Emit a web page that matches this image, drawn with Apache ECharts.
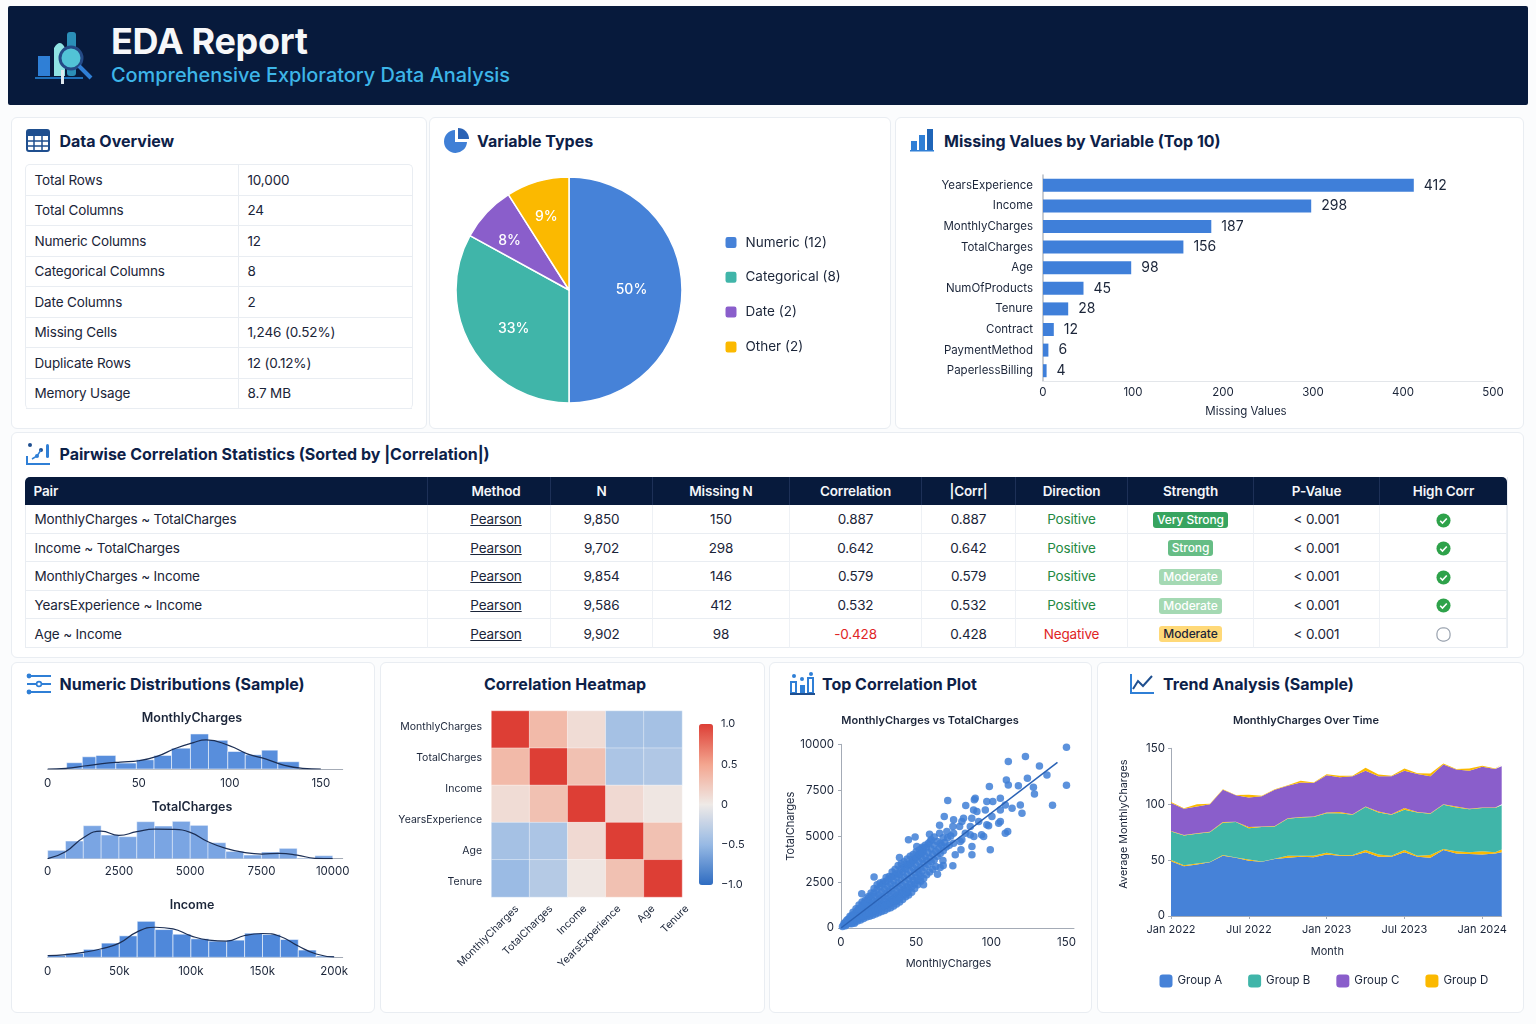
<!DOCTYPE html>
<html>
<head>
<meta charset="utf-8">
<title>EDA Report</title>
<script src="https://cdn.jsdelivr.net/npm/echarts@6/dist/echarts.min.js"></script>
<style>
html,body{margin:0;padding:0;background:#fbfcfd;width:1536px;height:1024px;overflow:hidden;font-family:Inter,"Noto Sans",sans-serif;color:#1a2438}
.abs{position:absolute;box-sizing:border-box}
#hdr{left:8px;top:6px;width:1520px;height:99px;background:#071a3c;border-radius:2px}
#hdr h1{position:absolute;left:103px;top:14px;margin:0;font-size:36px;line-height:42px;font-weight:700;color:#f6f7f9;letter-spacing:-.3px}
#hdr h2{position:absolute;left:103px;top:56px;margin:0;font-size:19.9px;line-height:26px;font-weight:500;color:#3db5e8}
.card{background:#fff;border:1px solid #e9edf2;border-radius:6px}
.ct{position:absolute;font-size:16px;line-height:24px;font-weight:700;color:#0d2148;white-space:nowrap}
.ic{position:absolute}
table{border-collapse:separate;border-spacing:0;table-layout:fixed;position:absolute;font-size:13.5px;letter-spacing:-.15px}
#ov{left:25px;top:164px;width:388px;border:1px solid #e9edf2;border-radius:5px;border-bottom:0}
#ov td{height:29.5px;padding:0 0 0 8.5px;border-bottom:1px solid #e9edf2}
#ov td:first-child{border-right:1px solid #e9edf2}
#ct{left:25px;top:477px;width:1483px;text-align:center;border-right:1px solid #e9edf2}
#ct th{height:28px;padding:0;background:#071a3c;color:#f4f6f9;font-size:13.5px;font-weight:600;border-right:1px solid #1d3057}
#ct th:first-child,#ct td:first-child{text-align:left;padding-left:8.5px}
#ct th:first-child{border-top-left-radius:5px}
#ct th:last-child{border-top-right-radius:5px;border-right:0}
#ct th:nth-child(2){padding-left:14px}
#ct td{height:26.6px;padding:1px 0 0 0;border-bottom:1px solid #e9edf2;border-right:1px solid #eef1f5}
#ct td:first-child{border-left:1px solid #e9edf2}
.m{text-decoration:underline;padding-left:14px}
.pos{color:#1f8a43}.neg{color:#e02525}
.bd{display:inline-block;font-size:12px;line-height:16px;padding:0 4px;border-radius:3px;font-weight:500;white-space:nowrap;letter-spacing:-.1px}
.ck{display:inline-block;width:15px;height:15px;vertical-align:middle}
#chart{left:0;top:0;width:1536px;height:1024px}
</style>
</head>
<body>
<div class="abs" id="hdr">
<svg class="ic" style="left:27px;top:20px" width="60" height="60" viewBox="0 0 60 60">
<rect x="3" y="30" width="12" height="20" fill="#2f7fd6"/><path d="M19 50V22q6-10 11 0v28z" fill="#8fe3e3"/><rect x="32" y="6" width="9" height="44" rx="3" fill="#2b8fb8"/><rect x="0" y="51" width="48" height="2" fill="#1e6fb8"/>
<circle cx="36" cy="32" r="11" fill="#52c3d6" stroke="#244a86" stroke-width="3"/><line x1="44" y1="40" x2="56" y2="52" stroke="#2f7fd6" stroke-width="4"/><rect x="26" y="44" width="3" height="14" fill="#dfe8ee"/>
</svg>
<h1>EDA Report</h1>
<h2>Comprehensive Exploratory Data Analysis</h2>
</div>

<div class="abs card" style="left:11px;top:117px;width:416px;height:312px"></div>
<div class="abs card" style="left:429px;top:117px;width:462px;height:312px"></div>
<div class="abs card" style="left:895px;top:117px;width:629px;height:312px"></div>
<div class="abs card" style="left:11px;top:432px;width:1513px;height:226px"></div>
<div class="abs card" style="left:11px;top:662px;width:364px;height:351px"></div>
<div class="abs card" style="left:380px;top:662px;width:385px;height:351px"></div>
<div class="abs card" style="left:769px;top:662px;width:323px;height:351px"></div>
<div class="abs card" style="left:1097px;top:662px;width:427px;height:351px"></div>

<svg class="ic" style="left:26px;top:129px" width="24" height="23" viewBox="0 0 24 23"><rect x="1" y="1" width="22" height="21" rx="2" fill="#fff" stroke="#1f4f8f" stroke-width="2"/><rect x="1" y="1" width="22" height="6" fill="#1f4f8f"/><path d="M1 12h22M1 17h22M8 7v15M16 7v15" stroke="#1f4f8f" stroke-width="1.5"/></svg>
<div class="ct" style="left:59.5px;top:129px">Data Overview</div>
<svg class="ic" style="left:444px;top:128px" width="25" height="25" viewBox="0 0 25 25"><path d="M11 2a11.5 11.5 0 1 0 12 12H11z" fill="#3f7fd6"/><path d="M14 0a11 11 0 0 1 11 11H14z" fill="#2a62b5"/></svg>
<div class="ct" style="left:477px;top:129px">Variable Types</div>
<svg class="ic" style="left:910px;top:127px" width="25" height="25" viewBox="0 0 25 25"><rect x="1" y="14" width="6" height="9" fill="#2f7fd6"/><rect x="9" y="8" width="6" height="15" fill="#2f7fd6"/><rect x="17" y="2" width="6" height="21" fill="#1f65b8"/><rect x="0" y="23" width="24" height="1.5" fill="#2f7fd6"/></svg>
<div class="ct" style="left:944px;top:129px">Missing Values by Variable (Top 10)</div>
<svg class="ic" style="left:26px;top:442px" width="25" height="24" viewBox="0 0 25 24"><path d="M1 14v8h23" fill="none" stroke="#2f7fd6" stroke-width="2"/><circle cx="4" cy="3" r="2" fill="#1f4f8f"/><circle cx="11" cy="14" r="2" fill="#2f7fd6"/><circle cx="15" cy="8" r="2" fill="#1f4f8f"/><rect x="20" y="2" width="3" height="14" rx="1.5" fill="#2f7fd6"/><path d="M6 17l5-3 4-6" fill="none" stroke="#2f7fd6" stroke-width="1.5"/></svg>
<div class="ct" style="left:59.5px;top:442px">Pairwise Correlation Statistics (Sorted by |Correlation|)</div>
<svg class="ic" style="left:26px;top:673px" width="25" height="22" viewBox="0 0 25 22"><path d="M1 3h24M1 11h24M1 19h24" stroke="#2f7fd6" stroke-width="2"/><circle cx="3" cy="3" r="2.4" fill="#2f7fd6"/><circle cx="13" cy="11" r="2.4" fill="#fff" stroke="#2f7fd6" stroke-width="1.6"/><circle cx="3" cy="19" r="2.4" fill="#2f7fd6"/></svg>
<div class="ct" style="left:59.5px;top:672px">Numeric Distributions (Sample)</div>
<div class="ct" style="left:380px;top:672px;width:370px;text-align:center">Correlation Heatmap</div>
<svg class="ic" style="left:790px;top:672px" width="25" height="23" viewBox="0 0 25 23"><rect x="1" y="10" width="5" height="11" fill="none" stroke="#2f7fd6" stroke-width="2"/><rect x="10" y="13" width="5" height="8" fill="#2f7fd6"/><rect x="18" y="6" width="5" height="15" fill="none" stroke="#2f7fd6" stroke-width="2"/><path d="M0 22h25" stroke="#1f4f8f" stroke-width="2"/><circle cx="4" cy="4" r="2" fill="#2f7fd6"/><circle cx="12" cy="7" r="2" fill="#2f7fd6"/><circle cx="21" cy="2" r="2" fill="#2f7fd6"/></svg>
<div class="ct" style="left:822px;top:672px">Top Correlation Plot</div>
<svg class="ic" style="left:1129px;top:673px" width="26" height="22" viewBox="0 0 26 22"><path d="M2 1v19h23" fill="none" stroke="#2f7fd6" stroke-width="2"/><path d="M4 16l5-8 5 5 9-10" fill="none" stroke="#1f4f8f" stroke-width="2"/></svg>
<div class="ct" style="left:1163px;top:672px">Trend Analysis (Sample)</div>

<table class="abs" id="ov"><colgroup><col style="width:213px"><col></colgroup><tbody id="ovb"></tbody></table>
<table class="abs" id="ct"><colgroup id="ctc"></colgroup><thead><tr id="cth"></tr></thead><tbody id="ctb"></tbody></table>
<div class="abs" id="chart"></div>

<script>
/* ---------- tables ---------- */
const overviewLabels = ['Total Rows','Total Columns','Numeric Columns','Categorical Columns','Date Columns','Missing Cells','Duplicate Rows','Memory Usage'];
const overviewValues = ['10,000','24','12','8','2','1,246 (0.52%)','12 (0.12%)','8.7 MB'];
const corrHeaders = ['Pair','Method','N','Missing N','Correlation','|Corr|','Direction','Strength','P-Value','High Corr'];
const corrPairs = ['MonthlyCharges ~ TotalCharges','Income ~ TotalCharges','MonthlyCharges ~ Income','YearsExperience ~ Income','Age ~ Income'];
const corrN = ['9,850','9,702','9,854','9,586','9,902'];
const corrMissing = ['150','298','146','412','98'];
const corrValues = ['0.887','0.642','0.579','0.532','-0.428'];
const corrAbs = ['0.887','0.642','0.579','0.532','0.428'];
const corrDirection = ['Positive','Positive','Positive','Positive','Negative'];
const corrStrength = ['Very Strong','Strong','Moderate','Moderate','Moderate'];
const corrHigh = [true,true,true,true,false];

/* ---------- pie ---------- */
const typeNames = ['Numeric (12)','Categorical (8)','Date (2)','Other (2)'];
const typeShares = [50,33,8,9];

/* ---------- missing values ---------- */
const missingVars = ['YearsExperience','Income','MonthlyCharges','TotalCharges','Age','NumOfProducts','Tenure','Contract','PaymentMethod','PaperlessBilling'];
const missingCounts = [412,298,187,156,98,45,28,12,6,4];

/* ---------- histograms: [binStart, binEnd, height] and KDE [x, height] ---------- */
const monthlyBins = [[10.4,19,19],[19,26.5,37],[26.5,37.4,41],[37.4,48.7,18],[48.7,58.4,28],[58.4,68,41],[68,78.4,63],[78.4,88.3,106],[88.3,98.9,87],[98.9,108.5,53],[108.5,117.5,43],[117.5,126.4,57],[126.4,138.1,22]];
const monthlyKde = [[0,0],[10,2],[20,9],[30,16],[40,21],[50,25],[60,38],[70,62],[80,80],[87,88],[100,70],[110,45],[120,30],[130,11],[140,2],[150,0]];
const totalBins = [[0,625,25],[625,1250,53],[1250,1875,99],[1875,2500,71],[2500,3125,66],[3125,3750,111],[3750,4375,98],[4375,5000,112],[5000,5625,100],[5625,6250,48],[6250,6875,22],[6875,7500,11],[7500,8125,20],[8125,8750,31],[8750,9375,2],[9375,10000,9]];
const totalKde = [[0,0],[625,21],[1250,63],[1875,83],[2500,70],[3125,81],[3750,89],[4375,88],[5000,79],[5625,51],[6250,31],[6875,19],[7500,14],[8125,16],[8750,11],[9375,1],[10000,0]];
const incomeBins = [[0,12500,6],[12500,25000,12],[25000,37500,24],[37500,50000,43],[50000,62500,65],[62500,75000,109],[75000,87500,84],[87500,100000,70],[100000,112500,56],[112500,125000,49],[125000,137500,52],[137500,150000,73],[150000,162500,69],[162500,175000,54],[175000,187500,22],[187500,200000,4]];
const incomeKde = [[0,5],[12500,8],[25000,15],[37500,26],[50000,43],[62500,77],[75000,91],[87500,86],[100000,65],[112500,52],[125000,49],[137500,66],[150000,72],[162500,63],[175000,34],[187500,10],[200000,1]];

/* ---------- heatmap ---------- */
const heatLabels = ['MonthlyCharges','TotalCharges','Income','YearsExperience','Age','Tenure'];
const heatCols = ['c1','c2','c3','c4','c5'];
const heatRows = ['r1','r2','r3','r4','r5'];
const heatRow1 = [1,0.35,0.1,-0.42,-0.42];
const heatRow2 = [0.35,1,0.3,-0.38,-0.36];
const heatRow3 = [0.1,0.3,1,0.12,0.03];
const heatRow4 = [-0.42,-0.38,0.12,1,0.3];
const heatRow5 = [-0.48,-0.33,0.03,0.3,1];
const colorTicks = ['-1.0','-0.5','0','0.5','1.0'];

/* ---------- scatter ---------- */
const scatterPts = [[150,9840],[150,7770],[122.7,9330],[111.3,9060],[132,8820],[137,8330],[124,8150],[118,7750],[128,7660],[128.7,7300],[111.3,7790],[110,8060],[140.7,6680],[120.4,6250],[119.3,6700],[98.7,7700],[106,7065],[71,6940],[68.7,6070],[83,6670],[89.3,7065],[88.7,6975],[97,6880],[101,6880],[90.4,6340],[88.2,6430],[96,6430],[106,6430],[100.4,6070],[109.3,6700],[113.8,6520],[106,5800],[104.9,5700],[110.9,5250],[109.3,5160],[99.3,4260],[97,5620],[98.2,5560],[94.9,4980],[93.5,5070],[88.4,4980],[87.1,3985],[87.1,4440],[86,5070],[82.7,5160],[80.4,5800],[81.5,5980],[74.9,5890],[74.4,5525],[78.9,5525],[87,5980],[91.6,5800],[86,5525],[65.6,5600],[65.6,5160],[70.4,5250],[74.9,5160],[80.4,4800],[79.3,4710],[74.9,4620],[76,3985],[79.8,4260],[74.4,3390],[64.2,2930],[67.8,3680],[58.9,5110],[49.3,4950],[44.9,4800],[50.4,4440],[54.4,4350],[59.3,4710],[66,4620],[54.9,2355],[44.2,1900],[36.7,1485],[38.9,3840],[22,2770],[13.8,1870],
[1,80],[2,150],[2,250],[3,120],[3,320],[4,200],[4,430],[5,310],[5,490],[6,240],[6,520],[7,360],[7,640],[8,410],[8,720],[9,330],[9,560],[10,490],[10,830],[11,610],[11,960],[12,520],[12,800],[13,710],[13,1060],[14,620],[14,900],[15,790],[15,1190],[16,700],[16,1020],[17,880],[17,1310],[18,760],[18,1130],[19,970],[19,1410],[20,820],[20,1250],[21,1060],[21,1510],[22,980],[22,1360],[23,1150],[23,1710],[24,1020],[24,1450],[25,1260],[25,1810],[26,1100],[26,1610],[27,1350],[27,1960],[28,1250],[28,1700],[29,1490],[29,2110],[30,1300],[30,1860],[31,1610],[31,2260],[32,1450],[32,2010],[33,1760],[33,2410],[34,1550],[34,2150],[35,1860],[35,2560],[36,1700],[36,2310],[37,2010],[37,2760],[38,1800],[38,2450],[39,2160],[39,2910],[40,1950],[40,2610],[41,2310],[41,3060],[42,2100],[42,2760],[43,2460],[43,3210],[44,2250],[44,2910],[45,2660],[45,3410],[46,2400],[46,3110],[47,2810],[47,3560],[48,2600],[48,3260],[49,3010],[49,3710],[50,2760],[50,3410],[51,3160],[51,3910],[52,2950],[52,3610],[53,3310],[53,4060],[54,3100],[54,3760],[55,3510],[55,4210],[56,3300],[56,3910],[57,3660],[57,4410],[58,3450],[58,4110],[59,3810],[60,3600],[60,4310],[61,4010],[62,3700],[62,4510],[63,4160],[64,3900],[64,4710],[65,4310],[66,4060],[67,4510],[68,4210],[68,4910],[69,4660],[70,4410],[71,4910],[72,4510],[73,5010],
[6,640],[7,230],[8,860],[9,260],[10,1050],[11,380],[12,1250],[13,430],[14,1420],[15,520],[16,1500],[17,600],[18,1700],[19,640],[20,1900],[21,700],[22,2150],[23,760],[24,2350],[25,830],[26,2450],[27,900],[28,2500],[29,950],[30,2750],[31,1050],[32,2800],[33,1100],[34,3050],[35,1200],[36,3200],[37,1300],[38,3400],[39,1420],[40,3500],[41,1550],[42,3600],[43,1700],[44,3750],[45,1800],[46,3900],[47,1950],[48,4000],[49,2150],[50,4150],[51,2350],[52,4250],[53,2550],[54,4400],[55,2700],[56,4500],[57,2900],[58,4600],[59,3050],[60,4800],[61,3200],[62,4950],[63,3350],[66,3300],[68,3400],
[12,1050],[14,1250],[16,1400],[18,1600],[20,1750],[22,1900],[24,2100],[26,2250],[28,2400],[30,2550],[32,2650],[34,2800],[36,2900],[38,3000],[40,3200],[42,3300],[44,3450],[46,3500],[48,3700],[50,3850],[52,4000],[54,4100],
[15,640],[17,720],[19,800],[21,880],[23,950],[25,1030],[27,1120],[29,1200],[31,1250],[33,1350],[35,1450],[37,1550],[39,1650],[41,1800],[43,1950],[45,2100],[47,2250],[49,2400],[51,2600],[53,2800]];
const trendLine = [[0,0],[144,9020]];

/* ---------- stacked area ---------- */
const areaNames = ['Group A','Group B','Group C','Group D'];
const monthPos = [0,1,2,3,4,5,6,7,8,9,10,11,12,13,14,15,16,17,18,19,20,21,22,23,24,25,25.5];
const monthTicks = ['Jan 2022','Jul 2022','Jan 2023','Jul 2023','Jan 2024'];
const groupA = [49,44.5,46,48,54,52,49.5,48.5,51,52,53,52.5,55,54,54,57,53,53,57,53,52,59,56,55.5,55,56,57];
const fringeAB = [1,1,1,0.3,0.5,0.3,1,0.3,0.3,2,1,1.5,1.5,0.5,0.5,2,2,1,2,1,2.5,1,2,1.5,3,1,2.5];
const groupB = [25.5,26.5,26.5,26.7,29,31.7,28,30.7,28.7,33,34,34.5,35.5,37.5,36,38.5,37.5,36.5,36,38.5,37,39.5,39,38.5,38.5,39.5,39.5];
const fringeBC = [0.5,0.5,0.5,0.3,0.5,0.3,1,0.5,0.5,0.5,0.5,0.5,0.5,1,0.5,0.5,1,0.5,1.5,0.5,0.5,0.5,1,0.5,0.5,0.5,1];
const groupC = [25,23.5,24,24.7,29,23.7,26.5,27,32.5,29,31,30,33.5,31,34,32,31.5,34,33.5,34,33,35.5,33,34,36.5,34.5,34];
const groupD = [1,0.3,2,0.3,0.3,0.3,2.5,0.5,0.3,0.5,1.5,0.5,0.7,1.5,0.5,2.5,1.5,0.5,2,0.7,2.5,1,0.5,2,1,0.5,1.5];

/* ---------- palette ---------- */
const BLUE='#4682d8',TEAL='#40b5a9',PURPLE='#8a5ecb',GOLD='#fbb900',INK='#1b2539',AXIS='#a4abb6';

/* ---------- fill tables ---------- */
document.getElementById('ovb').innerHTML = overviewLabels.map((l,i)=>`<tr><td>${l}</td><td>${overviewValues[i]}</td></tr>`).join('');
const colW = [403,123,102,137,132,94,112,126,126,127];
document.getElementById('ctc').innerHTML = colW.map(w=>`<col style="width:${w}px">`).join('');
document.getElementById('cth').innerHTML = corrHeaders.map(h=>`<th>${h}</th>`).join('');
const badge = s=>s==='Very Strong'?['#37a45f','#fff']:s==='Strong'?['#66bd85','#fff']:['#a4d9b3','#fff'];
const CHECK = '<svg class="ck" viewBox="0 0 16 16"><circle cx="8" cy="8" r="7.5" fill="#2ea24a"/><path d="M4.5 8.3l2.4 2.4 4.6-4.8" fill="none" stroke="#fff" stroke-width="1.7"/></svg>';
const EMPTY = '<svg class="ck" viewBox="0 0 16 16"><rect x="1" y="1" width="14" height="14" rx="6" fill="#fff" stroke="#9aa3af" stroke-width="1.3"/></svg>';
document.getElementById('ctb').innerHTML = corrPairs.map((p,i)=>{
  const neg = corrDirection[i]==='Negative';
  const b = neg?['#ffd978',INK]:badge(corrStrength[i]);
  return `<tr><td>${p}</td><td><span class="m">Pearson</span></td><td>${corrN[i]}</td><td>${corrMissing[i]}</td>`+
  `<td class="${neg?'neg':''}">${corrValues[i]}</td><td>${corrAbs[i]}</td><td class="${neg?'neg':'pos'}">${corrDirection[i]}</td>`+
  `<td><span class="bd" style="background:${b[0]};color:${b[1]}">${corrStrength[i]}</span></td><td>&lt; 0.001</td><td>${corrHigh[i]?CHECK:EMPTY}</td></tr>`;
}).join('');

/* ---------- chart ---------- */
const font='Inter';
const lab=(o)=>Object.assign({fontFamily:font,fontSize:11.5,color:INK},o||{});
const plain=v=>String(v);
function histBars(bins,grid,opacity){
  return {type:'custom',xAxisIndex:grid,yAxisIndex:grid,data:bins,encode:{x:[0,1],y:2},silent:true,
    renderItem:(p,api)=>{
      const a=api.coord([api.value(0),0]),b=api.coord([api.value(1),api.value(2)]);
      return {type:'rect',shape:{x:a[0],y:b[1],width:b[0]-a[0],height:a[1]-b[1]},
        style:{fill:BLUE,opacity:opacity,stroke:'#ffffff',lineWidth:0.6}};
    }};
}
function histLine(kde,grid){
  return {type:'line',xAxisIndex:grid,yAxisIndex:grid,data:kde,smooth:0.5,symbol:'none',silent:true,lineStyle:{color:'#1c2f55',width:1.2}};
}
function histX(grid,max,interval,margin,fmt){
  return {type:'value',gridIndex:grid,min:0,max:max,interval:interval,splitLine:{show:false},axisTick:{show:false},
    axisLine:{show:true,onZero:false,lineStyle:{color:AXIS,width:1}},axisLabel:lab({margin:margin,showMaxLabel:false,formatter:fmt||plain})};
}
function histY(grid,max){
  return {type:'value',gridIndex:grid,min:0,max:max,show:false};
}
const kFmt=v=>v===0?'0':(v/1000)+'k';
function stack(name,values,color){
  return {name:name,type:'line',xAxisIndex:8,yAxisIndex:8,stack:'all',symbol:'none',silent:true,
    data:values.map((v,i)=>[v,monthPos[i]]),encode:{x:1,y:0},lineStyle:{width:0},itemStyle:{color:color},areaStyle:{color:color,opacity:1}};
}
const heatData=[heatRow1,heatRow2,heatRow3,heatRow4,heatRow5].flatMap((r,y)=>r.map((v,x)=>[x,y,v]));
const pieNudge=[[3,0],[-4,9],[-16,-8],[-6,-16]];

const option={
  animation:false,
  textStyle:{fontFamily:font},
  title:[
    {text:'MonthlyCharges',left:192,top:712,padding:0,textAlign:'center',textStyle:lab({fontSize:12.5,fontWeight:600})},
    {text:'TotalCharges',left:192,top:801,padding:0,textAlign:'center',textStyle:lab({fontSize:12.5,fontWeight:600})},
    {text:'Income',left:192,top:899,padding:0,textAlign:'center',textStyle:lab({fontSize:12.5,fontWeight:600})},
    {text:'MonthlyCharges vs TotalCharges',left:930,top:715,padding:0,textAlign:'center',textStyle:lab({fontSize:11,fontWeight:600})},
    {text:'MonthlyCharges Over Time',left:1306,top:715,padding:0,textAlign:'center',textStyle:lab({fontSize:11,fontWeight:600})}
  ],
  legend:[
    {orient:'vertical',left:723.5,top:235,padding:0,itemWidth:13,itemHeight:13,itemGap:19.8,icon:'roundRect',data:typeNames,selectedMode:false,textStyle:lab({fontSize:13.5,padding:[0,0,0,3]})},
    {orient:'horizontal',left:1159.5,top:974.5,padding:0,itemWidth:13,itemHeight:13,itemGap:26,icon:'roundRect',data:areaNames,selectedMode:false,textStyle:lab({fontSize:11.5})}
  ],
  grid:[
    {left:1043,top:175,width:450,height:206},
    {left:47.7,top:730,width:295,height:39},
    {left:47.7,top:818.7,width:295,height:40},
    {left:47.7,top:917,width:295,height:40.3},
    {left:491.5,top:711,width:190.5,height:186},
    {left:500,top:711,width:204,height:186},
    {left:699,top:724,width:14,height:161},
    {left:841,top:744.3,width:233,height:183.7},
    {left:1171,top:748.3,width:330.7,height:167.7}
  ],
  xAxis:[
    {type:'value',gridIndex:0,min:0,max:500,interval:100,splitLine:{show:false},axisTick:{show:false},
     axisLine:{show:true,onZero:false,lineStyle:{color:'#e3e6ea'}},axisLabel:lab({margin:6}),
     name:'Missing Values',nameLocation:'middle',nameGap:25,nameTextStyle:lab({padding:[0,44,0,0]})},
    histX(1,162,50,9),
    histX(2,10350,2500,7),
    histX(3,206000,50000,8,kFmt),
    {type:'category',gridIndex:4,data:heatCols,show:false},
    {type:'category',gridIndex:5,data:heatLabels,axisLine:{show:false},axisTick:{show:false},splitLine:{show:false},
     axisLabel:lab({rotate:45,interval:0,margin:10,fontSize:10.5})},
    {type:'value',gridIndex:6,min:0,max:1,show:false},
    {type:'value',gridIndex:7,min:0,max:155,interval:50,splitLine:{show:false},axisTick:{show:false},
     axisLine:{show:true,onZero:false,lineStyle:{color:AXIS}},axisLabel:lab({margin:9,showMaxLabel:false}),
     name:'MonthlyCharges',nameLocation:'middle',nameGap:30,nameTextStyle:lab({fontSize:11,padding:[0,18,0,0]})},
    {type:'value',gridIndex:8,min:0,max:25.5,interval:6,splitLine:{show:false},
     axisTick:{show:true,length:3,lineStyle:{color:AXIS}},axisLine:{show:true,onZero:false,lineStyle:{color:AXIS}},
     axisLabel:lab({margin:8,fontSize:11,showMaxLabel:false,formatter:v=>monthTicks[v/6]||''}),
     name:'Month',nameLocation:'middle',nameGap:30,nameTextStyle:lab({fontSize:11,padding:[0,18,0,0]})}
  ],
  yAxis:[
    {type:'category',gridIndex:0,inverse:true,data:missingVars,axisTick:{show:false},axisLine:{show:true,lineStyle:{color:'#b7bcc4',width:1.5}},axisLabel:lab({margin:10})},
    histY(1,118),histY(2,120),histY(3,122),
    {type:'category',gridIndex:4,inverse:true,data:heatRows,show:false},
    {type:'category',gridIndex:5,inverse:true,data:heatLabels,axisLine:{show:false},axisTick:{show:false},splitLine:{show:false},
     axisLabel:lab({margin:18,interval:0,fontSize:10.5})},
    {type:'value',gridIndex:6,min:-1,max:1,interval:0.5,position:'right',splitLine:{show:false},axisLine:{show:false},
     axisTick:{show:false},axisLabel:lab({margin:8,fontSize:11,formatter:v=>{const i=Math.round((v+1)*2);return (colorTicks[i]||'').replace('-','\u2212');}})},
    {type:'value',gridIndex:7,min:0,max:10000,interval:2500,splitLine:{show:false},axisTick:{show:true,length:3,lineStyle:{color:AXIS}},
     axisLine:{show:true,onZero:false,lineStyle:{color:AXIS}},axisLabel:lab({margin:7,formatter:plain}),
     name:'TotalCharges',nameLocation:'middle',nameGap:41,nameTextStyle:lab({fontSize:11,padding:[0,0,0,20]})},
    {type:'value',gridIndex:8,min:0,max:150,interval:50,splitLine:{show:false},axisTick:{show:true,length:3,lineStyle:{color:AXIS}},
     axisLine:{show:true,onZero:false,lineStyle:{color:AXIS}},axisLabel:lab({margin:6}),
     name:'Average MonthlyCharges',nameLocation:'middle',nameGap:42,nameTextStyle:lab({fontSize:10.8,padding:[0,0,0,16]})}
  ],
  visualMap:{type:'continuous',seriesIndex:7,min:-1,max:1,left:699,top:724,padding:0,itemWidth:14,itemHeight:161,show:true,calculable:false,hoverLink:false,
    showLabel:false,inRange:{color:['#2e6cc1','#97b9e4','#efeae7','#f3a58f','#dd3e35']}},
  series:[
    {type:'pie',center:[569,290],radius:113,startAngle:90,clockwise:true,silent:true,
     data:typeNames.map((n,i)=>({name:n,value:typeShares[i],itemStyle:{color:[BLUE,TEAL,PURPLE,GOLD][i]}})),
     itemStyle:{borderColor:'#fff',borderWidth:1.5},
     label:{position:'inside',formatter:'{c}%',color:'#fff',fontFamily:font,fontSize:14,fontWeight:500},labelLine:{show:false},
     labelLayout:p=>({dx:pieNudge[p.dataIndex][0],dy:pieNudge[p.dataIndex][1]})},
    {type:'bar',xAxisIndex:0,yAxisIndex:0,data:missingCounts,barWidth:13,silent:true,itemStyle:{color:'#3f7fd9'},
     label:{show:true,position:'right',distance:10,fontFamily:font,fontSize:14,color:INK}},
    histBars(monthlyBins,1,0.9),histLine(monthlyKde,1),
    histBars(totalBins,2,0.72),histLine(totalKde,2),
    histBars(incomeBins,3,0.95),
    {type:'heatmap',xAxisIndex:4,yAxisIndex:4,data:heatData,silent:true,itemStyle:{borderColor:'#fff',borderWidth:0.4},progressive:0},
    histLine(incomeKde,3),
    {type:'scatter',xAxisIndex:7,yAxisIndex:7,data:scatterPts,symbolSize:7.5,silent:true,itemStyle:{color:'#3f7fd6',opacity:0.85}},
    {type:'line',xAxisIndex:7,yAxisIndex:7,data:trendLine,symbol:'none',silent:true,lineStyle:{color:'#2a62b5',width:1.5}},
    stack('Group A',groupA,BLUE),stack('Group D',fringeAB,GOLD),stack('Group B',groupB,TEAL),stack('Group D',fringeBC,GOLD),stack('Group C',groupC,PURPLE),stack('Group D',groupD,GOLD)
  ]
};
const chart=echarts.init(document.getElementById('chart'),null,{renderer:'canvas',width:1536,height:1024});
chart.setOption(option);
</script>
</body>
</html>
